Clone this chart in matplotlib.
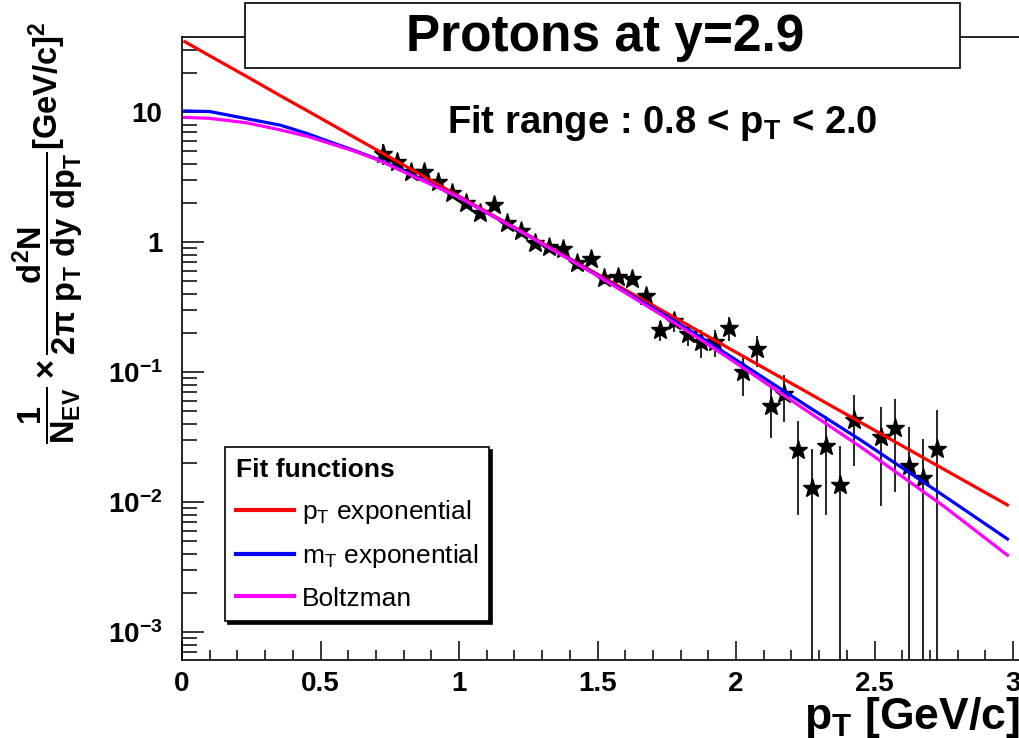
#!/usr/bin/env python3
# Proton pT spectrum at y=2.9 with three fit functions (ROOT-style look).
import matplotlib

matplotlib.use("Agg")
import matplotlib.pyplot as plt
from matplotlib import font_manager
from matplotlib.patches import Rectangle
from matplotlib.ticker import FixedLocator, FuncFormatter, LogLocator, MultipleLocator, NullFormatter
import numpy as np

# measured points
PT = [0.725, 0.775, 0.825, 0.875, 0.925, 0.975, 1.025, 1.075, 1.125, 1.175,
      1.225, 1.275, 1.325, 1.375, 1.425, 1.475, 1.525, 1.575, 1.625, 1.675,
      1.725, 1.775, 1.825, 1.875, 1.925, 1.975, 2.025, 2.075, 2.125, 2.175,
      2.225, 2.275, 2.325, 2.375, 2.425, 2.525, 2.575, 2.625, 2.675, 2.725]
YIELD = [4.8, 4.15, 3.47, 3.47, 2.91, 2.37, 1.99, 1.68, 1.93, 1.39,
         1.22, 0.99, 0.91, 0.89, 0.686, 0.736, 0.526, 0.541, 0.516, 0.384,
         0.21, 0.245, 0.195, 0.17, 0.171, 0.22, 0.1, 0.15, 0.055, 0.068,
         0.025, 0.0128, 0.027, 0.0135, 0.043, 0.0318, 0.0369, 0.0189, 0.0152, 0.0254]
YIELD_ERR = [0.85, 0.35, 0.28, 0.27, 0.22, 0.18, 0.15, 0.13, 0.14, 0.11,
             0.10, 0.08, 0.075, 0.072, 0.06, 0.063, 0.05, 0.05, 0.05, 0.042,
             0.037, 0.042, 0.036, 0.041, 0.04, 0.047, 0.035, 0.04, 0.024, 0.027,
             0.017, 0.0128, 0.019, 0.0135, 0.024, 0.0224, 0.025, 0.0189, 0.0152, 0.0254]

# fit curves
FIT_X = [0.01, 0.1, 0.233, 0.354, 0.45, 0.534, 0.618, 0.715, 0.85, 1.0,
         1.25, 1.5, 1.75, 1.87, 2.0, 2.25, 2.45, 2.75, 2.98]
FIT_PT_EXP = [34.8, 27.1, 18.8, 13.4, 10.3, 8.17, 6.47, 4.95, 3.41, 2.25,
              1.13, 0.566, 0.284, 0.204, 0.142, 0.0713, 0.041, 0.0179, 0.0095]
FIT_MT_EXP = [10.2, 10.1, 8.9, 7.94, 6.86, 5.9, 5.1, 4.27, 3.15, 2.21,
              1.12, 0.556, 0.269, 0.187, 0.124, 0.056, 0.030, 0.0112, 0.0052]
FIT_BOLTZ = [9.1, 8.95, 8.27, 7.3, 6.53, 5.74, 5.04, 4.22, 3.1, 2.21,
             1.12, 0.55, 0.26, 0.179, 0.1175, 0.0513, 0.0266, 0.0093, 0.0039]

FIT_LABELS = [r"p$_{\mathsf{T}}$ exponential", r"m$_{\mathsf{T}}$ exponential", "Boltzman"]
FIT_COLORS = ["#FF0000", "#0000FF", "#FF00FF"]

X_TICKS = [0, 0.5, 1, 1.5, 2, 2.5, 3]
Y_TICKS = [1e-3, 1e-2, 1e-1, 1, 10]

W, H = 1020, 738

available = {f.name for f in font_manager.fontManager.ttflist}
NARROW = "Liberation Sans Narrow" if "Liberation Sans Narrow" in available else "Liberation Sans"

plt.rcParams["font.family"] = ["Liberation Sans", "DejaVu Sans"]
plt.rcParams["mathtext.fontset"] = "custom"
plt.rcParams["mathtext.rm"] = f"{NARROW}:bold"
plt.rcParams["mathtext.it"] = f"{NARROW}:bold"
plt.rcParams["mathtext.bf"] = f"{NARROW}:bold"
plt.rcParams["mathtext.sf"] = "Liberation Sans"
plt.rcParams["mathtext.default"] = "rm"


def px_x(p):
    return p / W


def px_y(p):
    return 1 - p / H


fig = plt.figure(figsize=(W / 100, H / 100), dpi=100)
fig.patch.set_facecolor("white")

x_max = 3.04
ax_left, ax_right_px = 182, 182 + 277 * x_max
ax = fig.add_axes([px_x(ax_left), px_y(660), (ax_right_px - ax_left) / W, (660 - 37) / H])
ax.set_yscale("log")
ax.set_xlim(0, x_max)
ax.set_ylim(6.1e-4, 37.8)

ax.errorbar(PT, YIELD, yerr=YIELD_ERR, fmt="*", color="black", markersize=14,
            elinewidth=1.2, capsize=0, zorder=2)

lines = []
for ys, color, label in zip([FIT_PT_EXP, FIT_MT_EXP, FIT_BOLTZ], FIT_COLORS, FIT_LABELS):
    (ln,) = ax.plot(FIT_X, ys, color=color, linewidth=2.3, label=label, zorder=3)
    lines.append(ln)

# ticks
ax.xaxis.set_major_locator(FixedLocator(X_TICKS))
ax.xaxis.set_minor_locator(MultipleLocator(0.1))
ax.xaxis.set_major_formatter(FuncFormatter(lambda v, p: f"{v:g}"))
ax.yaxis.set_major_locator(FixedLocator(Y_TICKS))
ax.yaxis.set_minor_locator(LogLocator(base=10, subs=np.arange(2, 10)))
ax.yaxis.set_minor_formatter(NullFormatter())


def ylab(v, pos):
    e = int(round(np.log10(v)))
    if e == 0:
        return "1"
    if e == 1:
        return "10"
    return rf"$10^{{{e}}}$"


ax.yaxis.set_major_formatter(FuncFormatter(ylab))
ax.tick_params(axis="both", which="both", direction="in", top=False, right=False, width=1.1)
ax.tick_params(axis="x", which="major", length=14, pad=8)
ax.tick_params(axis="x", which="minor", length=7)
ax.tick_params(axis="y", which="major", length=16, pad=14)
ax.tick_params(axis="y", which="minor", length=11)
for lab in ax.get_xticklabels() + ax.get_yticklabels():
    lab.set_fontfamily(NARROW)
    lab.set_fontweight("bold")
    lab.set_fontsize(20)

for side in ["left", "bottom", "top"]:
    ax.spines[side].set_linewidth(1.2)
ax.spines["right"].set_visible(False)

# axis titles
ax.set_xlabel(r"p$_{T}$ [GeV/c]", fontfamily=NARROW, fontweight="bold", fontsize=32, loc="right")
ax.xaxis.set_label_coords((1020 - ax_left) / (ax_right_px - ax_left), (660 - 695) / 623)

fig.text(px_x(48), px_y(233),
         r"$\dfrac{1}{N_{EV}} \times \dfrac{d^{2}N}{2\pi\ p_{T}\ dy\ dp_{T}}$[GeV/c]$^{2}$",
         rotation=90, ha="center", va="center", fontsize=23.5,
         fontfamily=NARROW, fontweight="bold")

# title box
fig.add_artist(Rectangle((px_x(245), px_y(68)), (960 - 245) / W, 65 / H,
                         transform=fig.transFigure, facecolor="white",
                         edgecolor="black", linewidth=1.2, zorder=10))
fig.text(px_x(605), px_y(37), "Protons at y=2.9", ha="center", va="center",
         fontsize=37, fontfamily=NARROW, fontweight="bold", zorder=11)

fig.text(px_x(662), px_y(123), r"Fit range : 0.8 < p$_{T}$ < 2.0", ha="center", va="center",
         fontsize=27.5, fontfamily="Liberation Sans", fontweight="bold")

leg = ax.legend(handles=lines, loc="upper left",
                bbox_to_anchor=((225 - ax_left) / (ax_right_px - ax_left), (660 - 447) / 623),
                title="Fit functions", alignment="left",
                title_fontproperties={"weight": "bold", "size": 19, "family": "Liberation Sans"},
                prop={"size": 19, "family": "Liberation Sans"},
                frameon=True, fancybox=False, edgecolor="black", framealpha=1,
                shadow={"color": "black", "alpha": 1},
                borderpad=0.4, labelspacing=0.62, handlelength=2.2, handletextpad=0.3,
                borderaxespad=0)
leg.get_frame().set_linewidth(1.2)
for ln in leg.get_lines():
    ln.set_linewidth(3)

fig.savefig("out.png", dpi=100, facecolor="white")
